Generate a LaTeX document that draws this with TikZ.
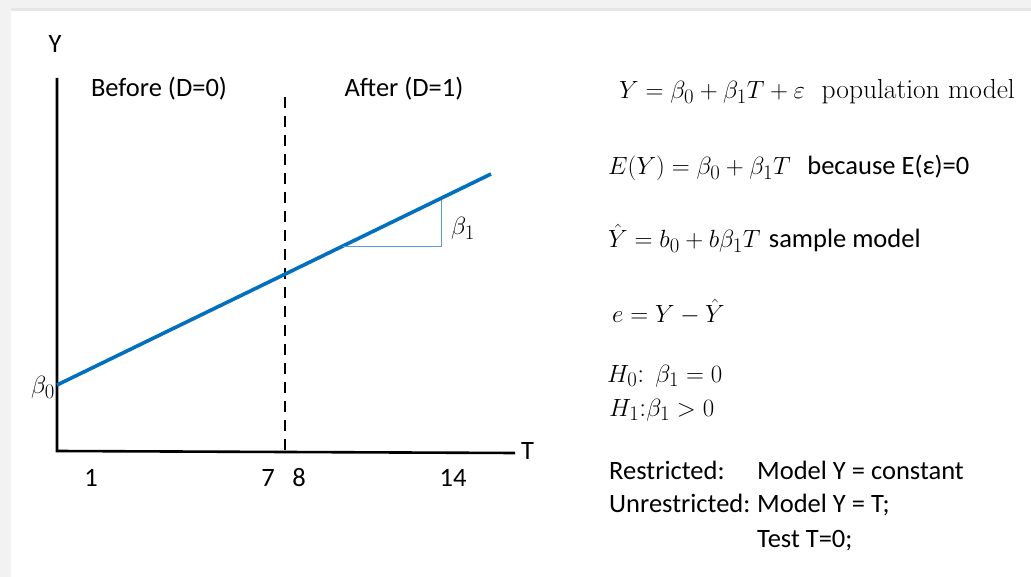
\documentclass[tikz,border=0pt]{standalone}
\usepackage[no-math]{fontspec}
\setsansfont{Carlito}
\usepackage{amsmath}
\DeclareMathSizes{27.5}{27.5}{20.5}{15}
\DeclareMathSizes{28}{28}{21}{15}
\begin{document}
\begin{tikzpicture}[x=1pt,y=-1pt]
\definecolor{frame}{HTML}{F2F2F2}
\definecolor{frameline}{HTML}{E6E6E6}
\definecolor{lineblue}{HTML}{0070C0}
\definecolor{triblue}{HTML}{5B9BD5}
\tikzset{
  axis/.style={line width=2.6pt, black},
  divider/.style={line width=2.6pt, black, dash pattern=on 11pt off 8pt},
  regline/.style={line width=3.6pt, lineblue},
  slopetri/.style={line width=1pt, triblue},
  lab/.style={font=\sffamily\fontsize{26.5}{31}\selectfont, inner sep=0pt},
  eq/.style={font=\fontsize{27.5}{32}\selectfont, inner sep=0pt, anchor=base west},
  seq/.style={font=\sffamily\fontsize{26.5}{31}\selectfont, inner sep=0pt, anchor=base west},
  greek/.style={font=\fontsize{28}{32}\selectfont, inner sep=0pt},
}
% frame / background
\fill[frame] (0,0) rectangle (1031,577);
\fill[frameline] (11,8) rectangle (1031,11);
\fill[white] (11,11) rectangle (1031,577);
\useasboundingbox (0,0) rectangle (1031,577);

% axes
\coordinate (O) at (57,451);
\coordinate (ytop) at (57,78);
\coordinate (xend) at (515,453);
\draw[axis] (ytop) -- (O) -- (xend);
\node[lab] (ylab) at (55,44) {Y};
\node[lab, anchor=west] (tlab) at (521,451) {T};

% divider
\coordinate (dtop) at (285,97);
\coordinate (dbot) at (285,451);
\draw[divider] (dtop) -- (dbot);

% region labels
\node[lab] (before) at (159,89) {Before (D=0)};
\node[lab] (after) at (404,89) {After (D=1)};

% regression line
\coordinate (L0) at (57,385);
\coordinate (L1) at (491,174);
\draw[regline] (L0) -- (L1);

% slope triangle
\coordinate (ta) at (343,247);
\coordinate (tb) at (441,247);
\coordinate (tc) at (441,200);
\draw[slopetri] (ta) -- (tb) -- (tc);
\node[greek, anchor=west] (b1) at (451,228) {$\beta_1$};
\node[greek, anchor=east] (b0) at (55,387) {$\beta_0$};

% tick labels
\node[lab] (t1) at (91,478) {1};
\node[lab] (t7) at (268,478) {7};
\node[lab] (t8) at (299,478) {8};
\node[lab] (t14) at (453,478) {14};

% equations
\node[eq] (e1) at (619,99) {$Y=\beta_0+\beta_1T+\varepsilon$\ \ population model};
\node[eq] (e2) at (608,175) {$E(Y)=\beta_0+\beta_1T$\ \ {\sffamily\fontsize{26.5}{31}\selectfont because E(ε)=0}};
\node[eq] (e3) at (608,248) {$\hat{Y}=b_0+b\beta_1T$ {\sffamily\fontsize{26.5}{31}\selectfont sample model}};
\node[eq] (e4) at (612,323) {$e=Y-\hat{Y}$};
\node[eq] (e5) at (607,382) {$H_0$: $\beta_1=0$};
\node[eq] (e6) at (609,416) {$H_1$:$\beta_1>0$};

\node[seq] (r1) at (609,479) {Restricted:};
\node[seq] (r1b) at (757,479) {Model Y = constant};
\node[seq] (r2) at (609,512) {Unrestricted:};
\node[seq] (r2b) at (757,512) {Model Y = T;};
\node[seq] (r3) at (757,547) {Test T=0;};
\end{tikzpicture}
\end{document}
